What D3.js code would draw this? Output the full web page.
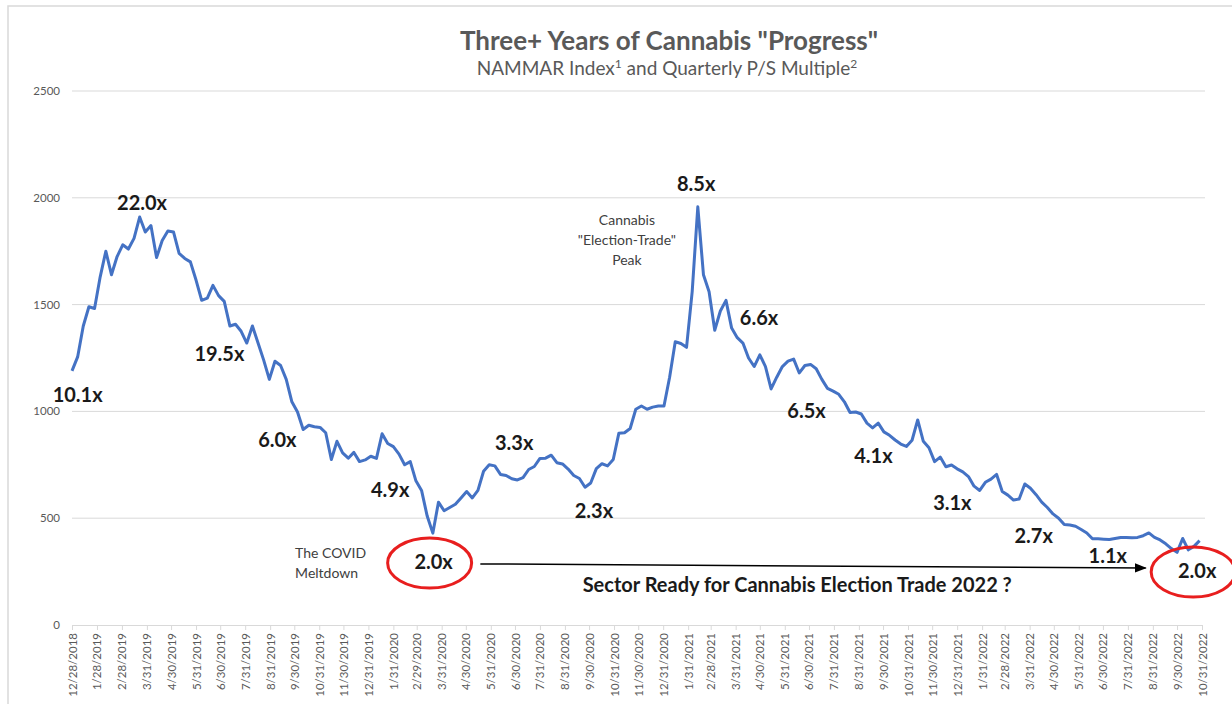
<!DOCTYPE html>
<html>
<head>
<meta charset="utf-8">
<script src="https://cdn.jsdelivr.net/npm/d3@7"></script>
<style>
  body { margin: 0; background: #fff; }
  svg { display: block; font-family: Lato, "Open Sans", sans-serif; }
</style>
</head>
<body>
<svg id="chart" width="1232" height="704"></svg>
<script>
// weekly NAMMAR index closes, starting 12/28/2018
const startDate = "2018-12-28";
const indexValues = [
  1190, 1255, 1400, 1490, 1482, 1630, 1750, 1640, 1725, 1780,
  1760, 1810, 1910, 1840, 1870, 1720, 1800, 1845, 1840, 1740,
  1716, 1700, 1615, 1520, 1530, 1590, 1542, 1515, 1400, 1408,
  1375, 1320, 1400, 1320, 1240, 1150, 1235, 1215, 1150, 1045,
  997, 915, 935, 928, 925, 900, 775, 860, 806, 781,
  808, 765, 773, 790, 780, 895, 850, 835, 800, 750,
  765, 675, 630, 510, 430, 575, 535, 550, 565, 595,
  625, 595, 630, 720, 750, 745, 705, 700, 685, 679,
  690, 728, 742, 780, 781, 795, 760, 754, 730, 700,
  686, 645, 665, 732, 755, 745, 775, 898, 900, 920,
  1010, 1025, 1010, 1020, 1025, 1025, 1160, 1326, 1318, 1300,
  1560, 1958, 1640, 1560, 1380, 1470, 1520, 1390, 1345, 1320,
  1250, 1210, 1265, 1210, 1105, 1160, 1210, 1235, 1245, 1180,
  1215, 1220, 1200, 1150, 1108, 1095, 1080, 1045, 995, 997,
  988, 945, 923, 945, 904, 888, 866, 847, 836, 865,
  960, 860, 830, 765, 786, 741, 749, 731, 717, 695,
  650, 630, 668, 683, 705, 625, 608, 585, 590, 660,
  640, 610, 575, 550, 520, 500, 470, 468, 462, 447,
  431, 404, 404, 402, 400, 405, 410, 410, 408, 410,
  418, 431, 410, 398, 380, 358, 340, 405, 352, 368,
  395
];

const tickLabels = [
  "12/28/2018", "1/28/2019", "2/28/2019", "3/31/2019", "4/30/2019", "5/31/2019",
  "6/30/2019", "7/31/2019", "8/31/2019", "9/30/2019", "10/31/2019", "11/30/2019",
  "12/31/2019", "1/31/2020", "2/29/2020", "3/31/2020", "4/30/2020", "5/31/2020",
  "6/30/2020", "7/31/2020", "8/31/2020", "9/30/2020", "10/31/2020", "11/30/2020",
  "12/31/2020", "1/31/2021", "2/28/2021", "3/31/2021", "4/30/2021", "5/31/2021",
  "6/30/2021", "7/31/2021", "8/31/2021", "9/30/2021", "10/31/2021", "11/30/2021",
  "12/31/2021", "1/31/2022", "2/28/2022", "3/31/2022", "4/30/2022", "5/31/2022",
  "6/30/2022", "7/31/2022", "8/31/2022", "9/30/2022", "10/31/2022"
];

const yTicks = [0, 500, 1000, 1500, 2000, 2500];

// P/S multiple call-outs, anchored at a date / index level
const multipleLabels = ["10.1x", "22.0x", "19.5x", "6.0x", "4.9x", "2.0x", "3.3x", "2.3x",
  "8.5x", "6.6x", "6.5x", "4.1x", "3.1x", "2.7x", "1.1x", "2.0x"];
const multipleDates = ["2019-01-04", "2019-03-25", "2019-06-29", "2019-09-09", "2020-01-27",
  "2020-03-21", "2020-06-29", "2020-10-06", "2021-02-10", "2021-04-29", "2021-06-27",
  "2021-09-18", "2021-12-25", "2022-04-05", "2022-07-06", "2022-10-25"];
const multipleLevels = [1044, 1943, 1236, 833, 599, 262, 820, 501,
  2032, 1405, 969, 758, 538, 384, 290, 220];
const circled = [5, 15];

const parseIso = d3.timeParse("%Y-%m-%d");
const parseTick = d3.timeParse("%m/%d/%Y");

const t0 = parseIso(startDate);
const series = indexValues.map((v, i) => ({ date: d3.timeDay.offset(t0, 7 * i), value: v }));
const tickDates = tickLabels.map(parseTick);

const svg = d3.select("#chart");
const plotLeft = 72, plotRight = 1202, plotTop = 91, plotBottom = 625;

const x = d3.scaleTime()
  .domain([tickDates[0], tickDates[tickDates.length - 1]])
  .range([plotLeft, plotRight]);
const y = d3.scaleLinear().domain([0, 2500]).range([plotBottom, plotTop]);

// outer frame
svg.append("rect")
  .attr("x", 8).attr("y", 6).attr("width", 1400).attr("height", 900)
  .attr("fill", "none").attr("stroke", "#d9d9d9").attr("stroke-width", 1.5);

// gridlines + y labels
svg.append("g")
  .selectAll("line")
  .data(yTicks.filter(d => d > 0))
  .join("line")
  .attr("x1", plotLeft).attr("x2", plotRight + 3)
  .attr("y1", d => y(d)).attr("y2", d => y(d))
  .attr("stroke", "#d9d9d9").attr("stroke-width", 1);

svg.append("g")
  .selectAll("text")
  .data(yTicks)
  .join("text")
  .attr("x", 60).attr("y", d => y(d) + 4)
  .attr("text-anchor", "end")
  .attr("font-size", 11.5).attr("fill", "#595959")
  .text(d => d);

// x axis
const xAxis = svg.append("g")
  .attr("transform", `translate(0,${plotBottom})`)
  .call(d3.axisBottom(x).tickValues(tickDates).tickSize(5).tickFormat((d, i) => tickLabels[i]));
xAxis.select(".domain").attr("stroke", "#d9d9d9");
xAxis.selectAll(".tick line").attr("stroke", "#d9d9d9");
xAxis.selectAll(".tick text")
  .attr("transform", "rotate(-90)")
  .attr("x", -8).attr("y", 0).attr("dy", "0.35em")
  .attr("text-anchor", "end")
  .attr("font-family", "Lato, sans-serif")
  .attr("font-size", 11.5).attr("fill", "#595959");

// index line
svg.append("path")
  .datum(series)
  .attr("fill", "none")
  .attr("stroke", "#4472c4")
  .attr("stroke-width", 3)
  .attr("stroke-linejoin", "round")
  .attr("d", d3.line().x(d => x(d.date)).y(d => y(d.value)));

// titles
svg.append("text")
  .attr("x", 669).attr("y", 50).attr("text-anchor", "middle")
  .attr("font-size", 26).attr("font-weight", 700).attr("fill", "#595959")
  .text('Three+ Years of Cannabis "Progress"');

const sub = svg.append("text")
  .attr("x", 667).attr("y", 75).attr("text-anchor", "middle")
  .attr("font-size", 19).attr("fill", "#595959");
sub.append("tspan").text("NAMMAR Index");
sub.append("tspan").attr("font-size", 12).attr("dy", -7).text("1");
sub.append("tspan").attr("dy", 7).text(" and Quarterly P/S Multiple");
sub.append("tspan").attr("font-size", 12).attr("dy", -7).text("2");

// multiple call-outs
const callouts = multipleLabels.map((t, i) => ({
  text: t, cx: x(parseIso(multipleDates[i])), cy: y(multipleLevels[i]), ring: circled.includes(i)
}));

svg.append("g")
  .selectAll("ellipse")
  .data(callouts.filter(d => d.ring))
  .join("ellipse")
  .attr("cx", d => d.cx - 4).attr("cy", d => d.cy - 6)
  .attr("rx", 42).attr("ry", 25)
  .attr("fill", "none").attr("stroke", "#e81e1e").attr("stroke-width", 3);

svg.append("g")
  .selectAll("text")
  .data(callouts)
  .join("text")
  .attr("x", d => d.cx).attr("y", d => d.cy)
  .attr("text-anchor", "middle")
  .attr("font-size", 20).attr("font-weight", 700).attr("fill", "#1a1a1a")
  .text(d => d.text);

// arrow from the covid low to today
svg.append("defs").append("marker")
  .attr("id", "head").attr("viewBox", "0 0 10 10")
  .attr("refX", 9).attr("refY", 5)
  .attr("markerWidth", 8).attr("markerHeight", 8)
  .attr("orient", "auto")
  .append("path").attr("d", "M0,1 L10,5 L0,9 Z").attr("fill", "#000");

svg.append("line")
  .attr("x1", x(parseIso("2020-05-18"))).attr("y1", y(286))
  .attr("x2", x(parseIso("2022-08-22"))).attr("y2", y(267))
  .attr("stroke", "#000").attr("stroke-width", 1.5)
  .attr("marker-end", "url(#head)");

svg.append("text")
  .attr("x", x(parseIso("2020-09-22"))).attr("y", y(154))
  .attr("font-size", 20).attr("font-weight", 700).attr("fill", "#1a1a1a")
  .text("Sector Ready for Cannabis Election Trade 2022 ?");

// small notes
const covid = svg.append("text")
  .attr("x", x(parseIso("2019-10-01"))).attr("y", y(314))
  .attr("font-size", 14).attr("fill", "#404040");
covid.append("tspan").text("The COVID");
covid.append("tspan").attr("x", x(parseIso("2019-10-01"))).attr("dy", 20).text("Meltdown");

const peak = svg.append("text")
  .attr("x", x(parseIso("2020-11-16"))).attr("y", y(1872))
  .attr("text-anchor", "middle")
  .attr("font-size", 14).attr("fill", "#404040");
["Cannabis", '"Election-Trade"', "Peak"].forEach((t, i) => {
  peak.append("tspan").attr("x", x(parseIso("2020-11-16"))).attr("dy", i ? 20 : 0).text(t);
});
</script>
</body>
</html>
